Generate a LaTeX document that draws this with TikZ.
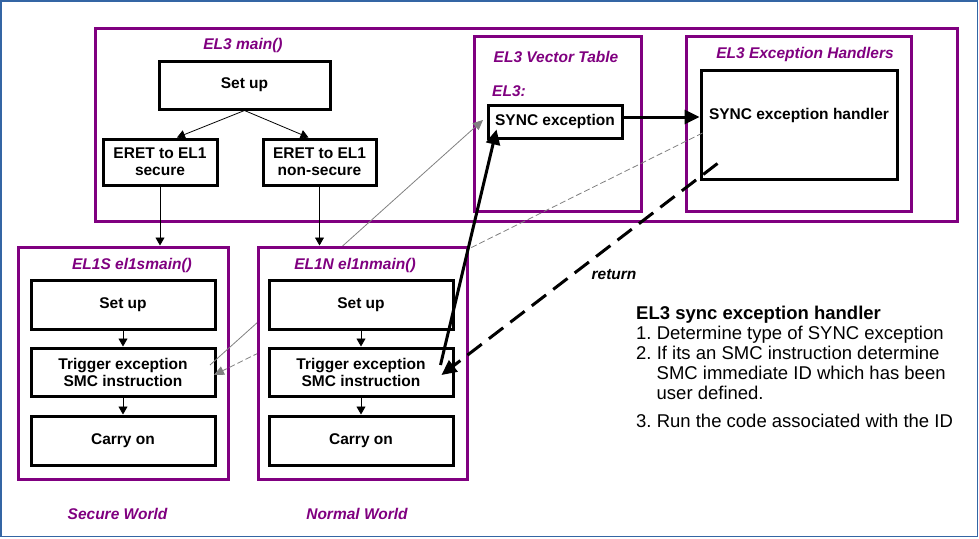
\documentclass[tikz,border=0pt]{standalone}
\usepackage{fontspec}
\setmainfont{Liberation Sans}
\usepackage{tikz}
\usetikzlibrary{arrows.meta,positioning,calc}
\definecolor{elpurple}{RGB}{128,0,128}
\definecolor{frameblue}{RGB}{52,101,164}
\definecolor{linkgray}{RGB}{128,128,128}
\tikzset{
  region/.style={draw=elpurple, line width=3pt, inner sep=0},
  stepbox/.style={draw, line width=3pt, fill=white, align=center, inner sep=0,
    font=\bfseries\fontsize{15.5}{17}\selectfont},
  regtitle/.style={text=elpurple, inner sep=0, font=\bfseries\itshape\fontsize{15.5}{17}\selectfont},
  flow/.style={-{Triangle[width=9pt,length=8pt]}, line width=0.8pt},
  grayflow/.style={draw=linkgray, line width=0.8pt, -{Triangle[width=9pt,length=10pt]}},
  bigflow/.style={line width=3pt, -{Triangle[width=14pt,length=15pt]}},
}
\frenchspacing

\begin{document}
\begin{tikzpicture}[x=1pt,y=-1pt]
\useasboundingbox (0,0) rectangle (979,538);
\draw[frameblue, line width=1.5pt] (1,1) rectangle (977.5,536.5);

% EL3 side
\node[region, minimum width=862, minimum height=193] (el3main) at (526,124.5) {};
\node[region, minimum width=167, minimum height=175] (vtable) at (557.5,123.5) {};
\node[region, minimum width=225, minimum height=175] (handlers) at (798.5,123.5) {};
\node[regtitle] (t-main) at (243,45) {EL3 main()};
\node[regtitle] (t-vtable) at (556,57) {EL3 Vector Table};
\node[regtitle, anchor=west] (t-el3) at (492,91) {EL3:};
\node[regtitle] (t-handlers) at (805,54) {EL3 Exception Handlers};

\node[stepbox, minimum width=171, minimum height=48] (setup3) at (244.5,85) {Set up};
\node[stepbox, minimum width=114, minimum height=46] (eret-s) at (160,162) {ERET to EL1\\secure};
\node[stepbox, minimum width=113, minimum height=46] (eret-n) at (319.5,162) {ERET to EL1\\non-secure};
\node[stepbox, minimum width=134, minimum height=33] (sync) at (555,121.5) {SYNC exception};
\node[stepbox, minimum width=196, minimum height=109,
  label={[font=\bfseries\fontsize{15.5}{17}\selectfont, yshift=9.5pt]center:SYNC exception handler}] (hdl) at (799,124.5) {};

\draw[flow] (setup3.south) -- ([xshift=17pt]eret-s.north);
\draw[flow] (setup3.south) -- ([xshift=-11pt]eret-n.north);
\draw[bigflow] ([yshift=4.5pt]sync.east) -- ([yshift=4.5pt]sync.east -| hdl.west);

% secure world
\node[region, fill=white, minimum width=210, minimum height=232] (el1s) at (123,363) {};
\node[regtitle] (t-el1s) at (132,265) {EL1S el1smain()};
\node[stepbox, minimum width=184, minimum height=49] (setup-s) at (123,304.5) {Set up};
\node[stepbox, minimum width=184, minimum height=48] (trig-s) at (123,372) {Trigger exception\\SMC instruction};
\node[stepbox, minimum width=184, minimum height=49] (carry-s) at (123,440.5) {Carry on};
\draw[flow] (setup-s) -- (trig-s);
\draw[flow] (trig-s) -- (carry-s);
\draw[flow] (eret-s.south) -- (eret-s.south |- el1s.north);

% thin links, under the normal world box
\draw[grayflow] ([xshift=-6.5pt,yshift=7pt]trig-s.east) -- ([xshift=-3.5pt,yshift=1.5pt]sync.west);
\draw[grayflow, dash pattern=on 6pt off 3pt] ([xshift=3pt,yshift=-8.5pt]hdl.west) -- ([xshift=-2.5pt,yshift=-3pt]trig-s.east);

% normal world
\node[region, fill=white, minimum width=209, minimum height=232] (el1n) at (362.5,363) {};
\node[regtitle] (t-el1n) at (355,265) {EL1N el1nmain()};
\node[stepbox, minimum width=184, minimum height=49] (setup-n) at (361,304.5) {Set up};
\node[stepbox, minimum width=184, minimum height=48] (trig-n) at (361,372) {Trigger exception\\SMC instruction};
\node[stepbox, minimum width=184, minimum height=49] (carry-n) at (361,440.5) {Carry on};
\draw[flow] (setup-n) -- (trig-n);
\draw[flow] (trig-n) -- (carry-n);
\draw[flow] (eret-n.south) -- (eret-n.south |- el1n.north);

\node[regtitle] (w-s) at (117.5,514) {Secure World};
\node[regtitle] (w-n) at (357,514) {Normal World};

% SMC and return
\draw[bigflow] ([xshift=-14pt,yshift=7pt]trig-n.east) -- ([xshift=10pt,yshift=10pt]sync.south west);
\draw[bigflow, dash pattern=on 18pt off 9pt] ([xshift=18pt,yshift=17pt]hdl.south west) -- ([xshift=-13pt,yshift=-3pt]trig-n.east);
\node[inner sep=0, font=\bfseries\itshape\fontsize{15.5}{17}\selectfont] (ret) at (614,275) {return};

\node[anchor=north west, align=left, inner sep=0, font=\fontsize{18.5}{20}\selectfont] (notes) at (636,306)
  {\textbf{EL3 sync exception handler}\\
   1. Determine type of SYNC exception\\
   2. If its an SMC instruction determine\\
   \hspace*{20.5pt}SMC immediate ID which has been\\
   \hspace*{20.5pt}user defined.\\[8pt]
   3. Run the code associated with the ID};
\end{tikzpicture}
\end{document}
